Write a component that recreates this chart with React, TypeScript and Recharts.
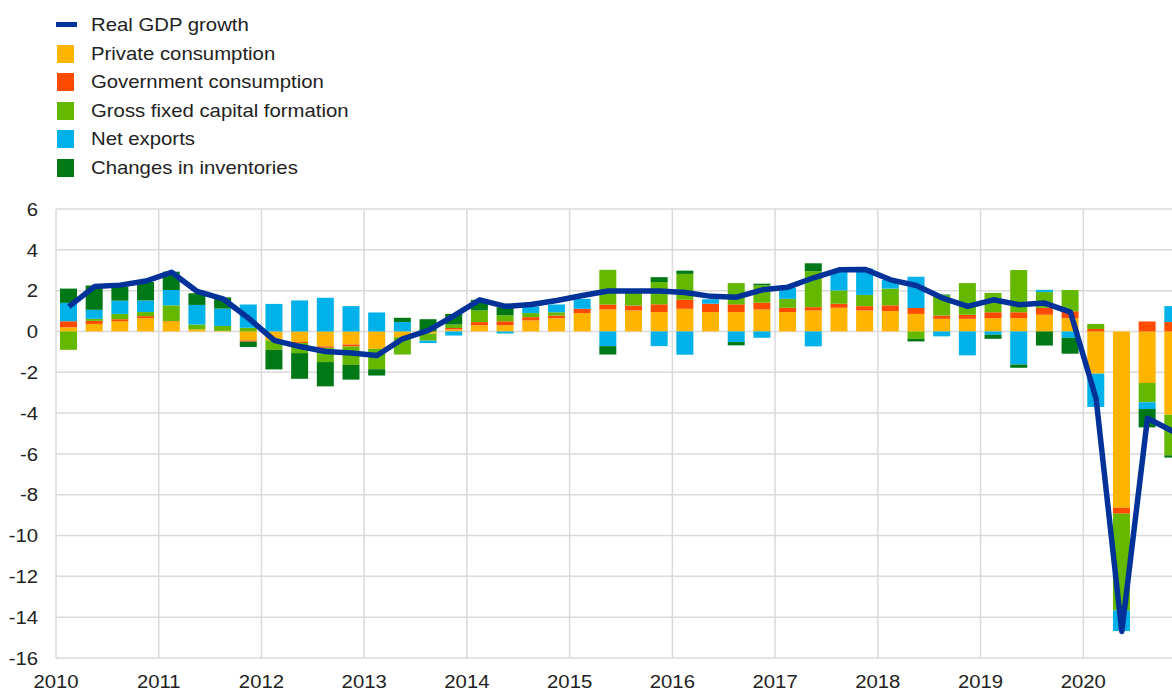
import React from 'react'
import { ComposedChart, Bar, Line, XAxis, YAxis, CartesianGrid } from 'recharts'

// quarters 2010Q1 .. 2020Q4, y/y contributions in percentage points
const YEARS = [2010, 2011, 2012, 2013, 2014, 2015, 2016, 2017, 2018, 2019, 2020]
const QUARTERS = YEARS.flatMap((y) => ['Q1', 'Q2', 'Q3', 'Q4'].map((q) => `${y}${q}`))

const privateConsumption = [
  0.2, 0.37, 0.5, 0.65,
  0.49, 0.1, 0.03, -0.44,
  -0.44, -0.52, -0.73, -0.64,
  -0.85, -0.28, -0.1, 0.1,
  0.3, 0.3, 0.54, 0.65,
  0.9, 1.08, 1.03, 0.95,
  1.11, 0.95, 0.95, 1.08,
  0.95, 1.03, 1.16, 1.03,
  1.0, 0.86, 0.62, 0.62,
  0.65, 0.65, 0.82, 0.65,
  -2.07, -8.64, -2.52, -4.08,
]
const governmentConsumption = [
  0.3, 0.15, 0.1, 0.1,
  0.02, 0.0, 0.0, -0.06,
  0.0, -0.05, -0.07, -0.1,
  0.0, 0.0, 0.0, 0.07,
  0.16, 0.2, 0.16, 0.13,
  0.21, 0.24, 0.24, 0.38,
  0.44, 0.41, 0.38, 0.33,
  0.21, 0.16, 0.2, 0.21,
  0.28, 0.29, 0.16, 0.2,
  0.29, 0.29, 0.34, 0.34,
  0.12, -0.29, 0.49, 0.46,
]
const grossFixedCapital = [
  -0.9, 0.1, 0.26, 0.2,
  0.77, 0.24, 0.24, 0.18,
  -0.46, -0.49, -0.7, -0.9,
  -1.0, -0.85, -0.35, 0.17,
  0.57, 0.3, 0.2, 0.16,
  0.0, 1.7, 0.7, 1.09,
  1.27, 0.0, 1.04, 0.85,
  0.44, 1.76, 0.65, 0.55,
  0.82, -0.36, 0.98, 1.55,
  0.95, 2.07, 0.77, 1.04,
  0.25, -4.74, -0.95, -1.99,
]
const netExports = [
  0.9, 0.44, 0.65, 0.57,
  0.75, 0.96, 0.85, 1.14,
  1.35, 1.52, 1.65, 1.24,
  0.93, 0.46, -0.12, -0.2,
  0.0, -0.1, 0.33, 0.38,
  0.49, -0.72, 0.0, -0.72,
  -1.14, 0.22, -0.52, -0.31,
  0.54, -0.73, 0.98, 1.3,
  0.42, 1.53, -0.24, -1.17,
  -0.16, -1.62, 0.11, -0.31,
  -1.63, -1.01, -0.33, 0.78,
]
const inventories = [
  0.7, 1.19, 0.69, 0.9,
  0.9, 0.57, 0.55, -0.26,
  -0.96, -1.26, -1.19, -0.72,
  -0.31, 0.21, 0.6, 0.52,
  0.52, 0.38, 0.0, 0.0,
  0.0, -0.41, 0.0, 0.24,
  0.16, 0.0, -0.16, 0.08,
  0.0, 0.39, 0.0, 0.0,
  0.0, -0.13, 0.05, 0.0,
  -0.2, -0.16, -0.69, -0.78,
  0.0, 0.0, -0.9, -0.11,
]
const realGdp = [
  1.22, 2.2, 2.27, 2.47,
  2.9, 1.96, 1.6, 0.65,
  -0.44, -0.74, -0.98, -1.06,
  -1.18, -0.36, 0.05, 0.78,
  1.55, 1.23, 1.32, 1.52,
  1.76, 1.98, 1.98, 1.98,
  1.91, 1.72, 1.68, 2.04,
  2.17, 2.63, 3.02, 3.04,
  2.53, 2.25, 1.65, 1.23,
  1.55, 1.31, 1.39, 0.95,
  -3.3, -14.7, -4.25, -4.9,
]

const Y_TICKS = [-16, -14, -12, -10, -8, -6, -4, -2, 0, 2, 4, 6]
const X_TICKS = YEARS.map((_, i) => i * 4)

const FONT = "'Liberation Sans', Arial, sans-serif"
const TEXT = '#222'
// the original text is a little wider than Arial
const STRETCH = 1.07

const SERIES = [
  { key: 'gdp', name: 'Real GDP growth', color: '#003299', line: true },
  { key: 'pc', name: 'Private consumption', color: '#FFB400' },
  { key: 'gc', name: 'Government consumption', color: '#FF4B00' },
  { key: 'gfcf', name: 'Gross fixed capital formation', color: '#65B800' },
  { key: 'nx', name: 'Net exports', color: '#00B1EA' },
  { key: 'inv', name: 'Changes in inventories', color: '#007816' },
]

const data = QUARTERS.map((q, i) => ({
  quarter: q,
  x: i + 0.5,
  pc: privateConsumption[i],
  gc: governmentConsumption[i],
  gfcf: grossFixedCapital[i],
  nx: netExports[i],
  inv: inventories[i],
  gdp: realGdp[i],
}))

const YTick = ({ x, y, payload }: any) => (
  <text
    transform={`translate(${x},${y}) scale(${STRETCH},1)`}
    textAnchor="end"
    dy="0.355em"
    fill={TEXT}
    fontSize={19}
    fontFamily={FONT}
  >
    {payload.value}
  </text>
)

const XTick = ({ x, y, payload }: any) => (
  <text
    transform={`translate(${x},${y}) scale(${STRETCH},1)`}
    textAnchor="middle"
    dy="0.71em"
    fill={TEXT}
    fontSize={19}
    fontFamily={FONT}
  >
    {2010 + payload.value / 4}
  </text>
)

const LegendBox = () => (
  <div style={{ position: 'absolute', left: 0, top: 0, fontFamily: FONT, fontSize: 19, color: TEXT }}>
    {SERIES.map((s, i) => (
      <div key={s.key} style={{ position: 'absolute', left: 57, top: 14 + i * 28.5, height: 21, lineHeight: '21px', whiteSpace: 'nowrap' }}>
        {s.line ? (
          <span style={{ position: 'absolute', left: -1, top: 8, width: 21, height: 5, background: s.color }} />
        ) : (
          <span style={{ position: 'absolute', left: 0, top: 2, width: 17, height: 18, background: s.color }} />
        )}
        <span style={{ position: 'absolute', left: 34, transform: `scaleX(${STRETCH})`, transformOrigin: 'left center' }}>
          {s.name}
        </span>
      </div>
    ))}
  </div>
)

export default function App() {
  return (
    <div style={{ position: 'fixed', left: 0, top: 0, width: 1172, height: 690, overflow: 'hidden', background: '#fff' }}>
      <LegendBox />
      <div style={{ position: 'absolute', left: 0, top: 0 }}>
        <ComposedChart
          width={1186}
          height={690}
          data={data}
          stackOffset="sign"
          margin={{ top: 209, right: 0, bottom: 0, left: 10 }}
        >
          <CartesianGrid stroke="#dadada" strokeWidth={1.5} />
          <XAxis
            dataKey="x"
            type="number"
            domain={[0, 44]}
            ticks={X_TICKS}
            axisLine={false}
            tickLine={false}
            tickMargin={10}
            height={32}
            interval={0}
            tick={<XTick />}
          />
          <YAxis
            domain={[-16, 6]}
            ticks={Y_TICKS}
            interval={0}
            axisLine={false}
            tickLine={false}
            tickMargin={12}
            width={46}
            tick={<YTick />}
          />
          {SERIES.filter((s) => !s.line).map((s) => (
            <Bar key={s.key} dataKey={s.key} name={s.name} stackId="c" fill={s.color} barSize={17} isAnimationActive={false} />
          ))}
          <Line
            dataKey="gdp"
            name="Real GDP growth"
            type="linear"
            stroke="#003299"
            strokeWidth={5.5}
            dot={false}
            strokeLinejoin="round"
            isAnimationActive={false}
          />
        </ComposedChart>
      </div>
    </div>
  )
}
